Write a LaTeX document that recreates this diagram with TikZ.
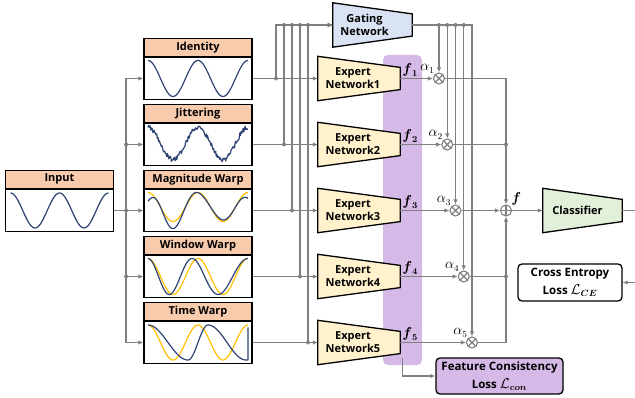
\documentclass[tikz,border=0pt]{standalone}
\usepackage{amsmath}
\usepackage{fontspec}
\setsansfont{Open Sans}
\usetikzlibrary{arrows.meta,calc,positioning}

\begin{document}
\begin{tikzpicture}[x=1pt,y=-1pt,>={Latex[length=5pt,width=4.5pt]},
  font=\sffamily\bfseries\fontsize{11}{13}\selectfont,
  wire/.style={draw=wiregray,line width=1.3pt},
  hdr/.style={draw,line width=1.2pt,fill=peach,minimum width=108pt,minimum height=18pt,inner sep=0pt},
  body/.style={draw,line width=1.2pt,fill=white,minimum width=108pt,minimum height=42pt},
  trap/.style={minimum width=82pt,minimum height=44pt,inner sep=0pt},
  lbl/.style={align=center,inner sep=0pt},
  mlbl/.style={font=\fontsize{13.5}{15}\selectfont},
  loss/.style={draw,line width=1.3pt,rounded corners=4pt,align=center,inner sep=0pt,
    font=\sffamily\bfseries\fontsize{11.5}{17}\selectfont},
  op/.style={circle,draw=wiregray,line width=1.1pt,minimum size=11pt,inner sep=0pt,fill=white},
  mult/.style={op,path picture={\draw[wiregray,line width=1.1pt]
    (path picture bounding box.north west) -- (path picture bounding box.south east)
    (path picture bounding box.north east) -- (path picture bounding box.south west);}},
  plus/.style={op,path picture={\draw[wiregray,line width=1.1pt]
    (path picture bounding box.north) -- (path picture bounding box.south)
    (path picture bounding box.west) -- (path picture bounding box.east);}},
  wave/.style={line width=1.2pt,line join=round}]
\colorlet{wiregray}{black!50}
\definecolor{peach}{HTML}{F8CBAD} \definecolor{expfill}{HTML}{FFF2CC}
\definecolor{gatefill}{HTML}{DAE3F3} \definecolor{clsfill}{HTML}{E2F0D9}
\definecolor{purp}{HTML}{D5B9E6} \definecolor{navy}{HTML}{2E4374}
\definecolor{gold}{HTML}{FFC000}
\def\trap#1#2{\draw[line width=1.3pt,fill=#2] (#1.north west)
  -- ($(#1.north east)!.25!(#1.south east)$) -- ($(#1.north east)!.75!(#1.south east)$)
  -- (#1.south west) -- cycle;}
\def\bigm#1{{\fontsize{13.5}{17}\selectfont$#1$}}
\useasboundingbox (0,0) rectangle (635,398);

% feature band behind the experts
\node[fill=purp,rounded corners=5pt,minimum width=39pt,minimum height=310pt] (band) at (402.5,210) {};

% input and augmentations
\node[body] (inp) at (59.5,210.5) {};
\node[hdr,above=0pt of inp] (inph) {Input};
\foreach \i/\lab in {1/Identity,2/Jittering,3/Magnitude Warp,4/Window Warp,5/Time Warp} {
  \node[body] (aug\i) at (198,{12.5+66*\i}) {};
  \node[hdr,above=0pt of aug\i] (augh\i) {\lab};
}

% signals
\begin{scope}[shift={(inp.center)}]
  \draw[wave,navy] plot[domain=-.5:.5,samples=80,smooth] ({98*\x},{-17.5*cos(720*\x)});
\end{scope}
\begin{scope}[shift={(aug1.center)}]
  \draw[wave,navy] plot[domain=-.5:.5,samples=80,smooth] ({100*\x},{-18*cos(720*\x)});
\end{scope}
\begin{scope}[shift={(aug2.center)}]
  \pgfmathsetseed{5}
  \draw[wave,navy] plot[domain=-.5:.5,samples=150] ({100*\x},{-1-16*cos(720*\x)+2.4*rand});
\end{scope}
\begin{scope}[shift={(aug3.center)}]
  \draw[wave,gold] plot[domain=-.5:.5,samples=80,smooth] ({100*\x},{-3.5-14.5*cos(720*\x)});
  \draw[wave,navy] plot[domain=-.5:.5,samples=80,smooth] ({100*\x},{-3.5-14.5*(-0.34+2.17*sin(180*(\x+.5))-0.1*cos(180*(\x+.5))+0.37*sin(360*(\x+.5))+0.84*cos(360*(\x+.5)))*cos(720*\x)});
\end{scope}
\begin{scope}[shift={(aug4.center)}]
  \draw[wave,gold] plot[domain=-.5:.5,samples=80,smooth] ({100*\x},{-18*cos(720*\x)});
  \draw[wave,navy] plot[domain=-.5:.5,samples=80,smooth] ({100*\x},{-18*cos(720*(\x+.06*sin(180*(\x+.5))))});
\end{scope}
\begin{scope}[shift={(aug5.center)}]
  \draw[wave,gold] plot[domain=-.5:.5,samples=80,smooth] ({100*\x},{-17.5*cos(720*\x)});
  \draw[wave,navy] plot[domain=0:.25,smooth,samples=30] ({160*\x-50},{-17.5*cos(720*\x)})
    -- plot[domain=.25:.5,smooth,samples=30] ({80*(\x-.25)-10},{-17.5*cos(720*\x)})
    -- plot[domain=.5:.75,smooth,samples=30] ({152*(\x-.5)+10},{-17.5*cos(720*\x)})
    -- (50,17.5) -- (50,-15);
\end{scope}

% gating, experts and weighting
\node[trap,minimum width=79pt] (gate) at (372.5,25) {};
\trap{gate}{gatefill}
\node[lbl] (gatet) at ([xshift=-8pt]gate.center) {Gating\\Network};
\foreach \i [evaluate=\i as \y using 12.5+66*\i] in {1,...,5} {
  \node[trap] (e\i) at (359,\y) {};
  \trap{e\i}{expfill}
  \node[lbl] (et\i) at ([xshift=-6pt]e\i.center) {Expert\\Network\i};
  \node[mult,label={[mlbl,inner sep=0.5pt]128:$\alpha_{\i}$}] (m\i) at ({430.75+8.25*\i},\y) {};
  \coordinate (j\i) at ({268+8*\i},\y);
}
\node[plus,label={[mlbl,inner sep=1pt]45:$\boldsymbol{f}$}] (sum) at (506,210.5) {};

\coordinate (bus) at ($(inp.east)+(12,0)$);
\foreach \i in {1,...,5} {
  \draw[wire,->] (inp.east) -- (bus) |- (aug\i.west);
  \draw[wire,->] (aug\i.east) -- (e\i.west);
  \draw[wire,->] (j\i) |- (gate.west);
  \draw[wire,->] (gate.east) -| (m\i.north);
  \draw[wire,->] (e\i.east) node[mlbl,above right,inner sep=1.5pt] {$\boldsymbol{f}_{\boldsymbol{\i}}$} -- (m\i.west);
}
\draw[wire,->] (m1.east) -| (sum.north);
\draw[wire] (m2.east) -- (m2 -| sum);
\draw[wire,->] (m3.east) -- (sum.west);
\draw[wire] (m4.east) -- (m4 -| sum);
\draw[wire,->] (m5.east) -| (sum.south);
\foreach \i in {2,3,4} \fill[wiregray] (bus |- aug\i) circle (2pt);
\foreach \i in {1,...,5} \fill[wiregray] (j\i) circle (2pt);
\foreach \i in {2,...,5} \fill[wiregray] (j\i |- gate) circle (2pt);
\foreach \i in {1,...,4} \fill[wiregray] (m\i |- gate) circle (2pt);
\foreach \i in {2,4} \fill[wiregray] (m\i -| sum) circle (2pt);

% classifier and losses
\node[trap,minimum width=79pt] (cls) at (582.5,210.5) {};
\trap{cls}{clsfill}
\node[lbl] (clst) at ([xshift=-5pt]cls.center) {Classifier};
\draw[wire,->] (sum.east) -- (cls.west);
\node[loss,fill=white,minimum width=104pt,minimum height=37pt] (ce) at (570,282.5) {Cross Entropy\\[1pt]Loss \bigm{\mathcal{L}_{\boldsymbol{CE}}}};
\node[loss,fill=purp,minimum width=127pt,minimum height=36pt] (fc) at (499.5,376) {Feature Consistency\\[1pt]Loss \bigm{\mathcal{L}_{\boldsymbol{con}}}};
\coordinate (outr) at (635,210.5);
\coordinate (inr) at (635,282.5);
\draw[wire] (cls.east) -- (outr);
\draw[wire,->] (inr) -- (ce.east);
\draw[wire,->] ([yshift=7pt]band.south) |- (fc.west);
\end{tikzpicture}
\end{document}
